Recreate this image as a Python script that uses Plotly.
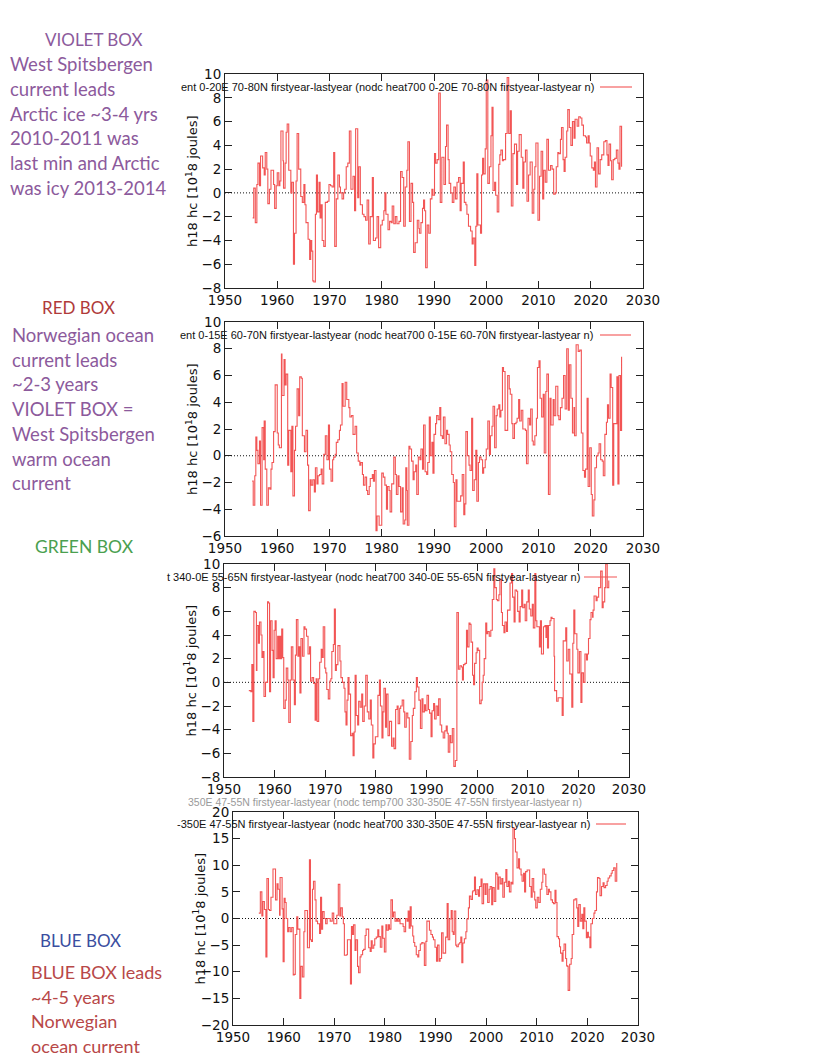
import plotly.graph_objects as go

# ---------------- data ----------------
# VIOLET BOX: 0-20E 70-80N
YEAR_VIOLET = [1955.3,1955.5,1955.8,1956.1,1956.3,1956.6,1956.8,1957.2,1957.5,1957.7,1958.0,1958.2,1958.5,1958.8,1959.3,1959.5,1959.8,1960.0,1960.3,1960.5,1960.7,1961.1,1961.2,1961.5,1961.7,1961.9,1962.2,1962.6,1962.8,1963.1,1963.3,1963.6,1963.8,1964.1,1964.5,1964.8,1965.1,1965.3,1965.5,1965.9,1966.2,1966.4,1966.6,1966.8,1967.0,1967.3,1967.5,1967.7,1968.0,1968.2,1968.4,1968.6,1968.9,1969.0,1969.2,1969.6,1969.9,1970.2,1970.5,1970.8,1971.0,1971.3,1971.6,1971.9,1972.1,1972.4,1972.7,1972.9,1973.2,1973.5,1973.8,1974.1,1974.5,1974.8,1975.0,1975.4,1975.6,1975.9,1976.3,1976.6,1976.9,1977.2,1977.5,1977.8,1978.2,1978.4,1978.8,1979.1,1979.4,1979.8,1980.1,1980.4,1980.6,1980.8,1981.2,1981.5,1981.8,1982.0,1982.3,1982.6,1982.9,1983.3,1983.6,1983.9,1984.2,1984.5,1984.8,1985.0,1985.3,1985.6,1985.9,1986.1,1986.4,1986.8,1987.1,1987.2,1987.5,1987.8,1988.0,1988.2,1988.4,1988.7,1989.0,1989.3,1989.6,1989.8,1990.1,1990.3,1990.6,1990.9,1991.2,1991.5,1991.9,1992.2,1992.4,1992.7,1992.9,1993.2,1993.5,1993.8,1994.1,1994.4,1994.7,1995.0,1995.2,1995.6,1995.8,1996.1,1996.3,1996.6,1997.0,1997.3,1997.5,1997.8,1998.0,1998.2,1998.4,1998.9,1999.1,1999.3,1999.5,1999.8,2000.0,2000.3,2000.6,2000.9,2001.1,2001.3,2001.6,2001.8,2002.1,2002.4,2002.6,2002.8,2003.1,2003.3,2003.7,2004.0,2004.3,2004.6,2004.8,2005.1,2005.4,2005.8,2006.0,2006.3,2006.7,2007.0,2007.2,2007.5,2007.8,2008.1,2008.4,2008.8,2009.1,2009.3,2009.5,2009.9,2010.2,2010.5,2010.8,2011.0,2011.3,2011.6,2011.9,2012.3,2012.6,2012.9,2013.2,2013.4,2013.7,2013.9,2014.2,2014.4,2014.7,2014.9,2015.1,2015.4,2015.6,2015.9,2016.2,2016.5,2016.8,2017.0,2017.4,2017.7,2018.0,2018.3,2018.6,2019.0,2019.2,2019.5,2019.7,2019.9,2020.2,2020.5,2020.7,2020.9,2021.2,2021.5,2021.8,2022.1,2022.5,2022.8,2023.1,2023.3,2023.5,2023.8,2024.0,2024.3,2024.6,2024.9,2025.2,2025.4,2025.6,2025.9]
HC_VIOLET = [-2.1,0.4,-2.5,0.7,2.5,0.6,3.1,2.1,1.5,3.4,2.0,-0.9,0.3,1.9,0.7,-1.3,0.6,1.7,0.6,1.0,5.2,2.7,0.4,2.5,5.1,5.8,1.9,0.0,0.9,-6.0,-3.4,1.0,5.0,2.0,-0.3,-0.8,0.7,-1.0,-2.5,-3.9,-5.6,-4.0,-4.9,-7.4,-7.5,-1.8,1.5,-1.6,0.9,-2.1,-1.0,-4.0,-4.5,-4.5,-0.8,-0.7,0.7,0.6,0.5,3.4,-4.5,-0.5,1.5,0.5,0.0,-0.5,0.0,0.3,2.2,2.5,5.2,0.3,1.4,-1.5,5.4,-0.4,2.2,-1.0,-1.8,-2.0,-2.3,-0.6,-4.3,-2.0,1.3,-4.0,-3.8,-2.0,-4.6,-2.7,-2.3,-1.5,0.0,-1.8,-3.1,-2.4,-2.5,-1.1,-2.6,-2.0,-2.6,-2.4,1.8,1.3,-2.8,0.5,1.9,4.3,-2.4,0.8,-0.8,-5.0,-4.2,-2.3,-3.0,-3.4,-2.5,-1.3,-0.6,-1.5,-6.3,-2.7,-3.4,-0.5,0.3,-0.2,3.3,2.5,2.8,8.4,-0.8,3.0,0.7,3.9,5.7,2.8,0.8,0.0,-0.8,0.5,-0.5,0.9,1.3,-1.5,0.8,2.6,-0.8,-1.0,-1.8,-2.8,-3.2,-4.3,-3.8,-6.1,-2.8,1.6,-2.7,-3.4,1.5,2.9,1.6,3.7,9.5,0.8,2.2,4.8,7.2,0.2,0.9,-0.2,-1.6,2.4,3.2,3.6,2.7,2.8,5.0,9.7,5.0,6.9,-1.1,3.3,4.1,0.7,3.5,4.9,3.0,0.4,2.6,3.6,-0.7,1.5,2.6,-1.7,0.3,2.2,4.2,-2.3,1.4,3.5,-0.5,1.9,0.9,4.5,1.9,2.3,2.0,-0.1,0.0,2.2,3.4,3.3,4.5,5.5,2.8,1.8,3.0,5.2,7.0,5.5,4.0,6.0,4.6,6.2,5.6,6.4,6.3,5.7,4.8,4.7,4.2,4.8,4.2,3.1,2.1,1.9,2.6,0.5,3.8,1.6,2.8,3.2,4.3,4.4,3.2,2.3,4.1,2.7,1.1,2.8,2.9,3.6,2.5,2.0,5.6,2.2]

# RED BOX: 0-15E 60-70N
YEAR_RED = [1955.2,1955.4,1955.7,1955.9,1956.1,1956.3,1956.6,1956.8,1957.1,1957.4,1957.5,1957.7,1958.0,1958.3,1958.6,1958.8,1959.0,1959.3,1959.6,1960.0,1960.2,1960.4,1960.8,1960.9,1961.3,1961.5,1961.7,1962.0,1962.2,1962.6,1962.8,1963.0,1963.3,1963.5,1963.8,1964.1,1964.3,1964.6,1964.8,1965.2,1965.5,1965.8,1966.0,1966.3,1966.5,1966.8,1967.1,1967.3,1967.6,1967.8,1968.1,1968.4,1968.6,1968.9,1969.2,1969.5,1969.8,1970.0,1970.3,1970.6,1970.8,1971.1,1971.3,1971.6,1971.9,1972.1,1972.4,1972.6,1973.0,1973.3,1973.7,1973.9,1974.2,1974.5,1974.9,1975.2,1975.5,1975.8,1976.0,1976.3,1976.5,1976.8,1977.1,1977.3,1977.6,1977.8,1978.2,1978.4,1978.6,1978.9,1979.1,1979.5,1979.8,1980.0,1980.3,1980.6,1980.9,1981.1,1981.4,1981.6,1981.9,1982.3,1982.6,1982.8,1983.1,1983.3,1983.6,1983.9,1984.1,1984.4,1984.6,1984.8,1984.9,1985.2,1985.4,1985.7,1986.0,1986.2,1986.5,1986.7,1987.0,1987.3,1987.5,1987.8,1988.0,1988.3,1988.6,1988.8,1989.1,1989.3,1989.6,1989.8,1990.0,1990.3,1990.5,1990.8,1991.1,1991.3,1991.6,1991.8,1992.1,1992.4,1992.6,1992.9,1993.1,1993.4,1993.7,1993.9,1994.2,1994.4,1994.8,1995.1,1995.4,1995.7,1995.9,1996.1,1996.4,1996.7,1996.9,1997.2,1997.4,1997.7,1998.0,1998.2,1998.5,1998.7,1999.0,1999.3,1999.5,1999.8,2000.0,2000.3,2000.6,2000.8,2001.1,2001.3,2001.6,2001.9,2002.1,2002.4,2002.6,2002.8,2003.1,2003.3,2003.6,2003.8,2004.1,2004.4,2004.6,2004.9,2005.1,2005.4,2005.7,2005.9,2006.2,2006.4,2006.7,2007.0,2007.2,2007.5,2007.7,2008.0,2008.3,2008.5,2008.8,2009.0,2009.3,2009.6,2009.8,2010.1,2010.3,2010.6,2010.9,2011.1,2011.4,2011.6,2011.9,2012.2,2012.4,2012.8,2013.0,2013.3,2013.7,2013.9,2014.2,2014.5,2014.8,2015.1,2015.4,2015.7,2015.9,2016.2,2016.5,2016.8,2016.9,2017.2,2017.6,2017.9,2018.2,2018.5,2018.8,2019.0,2019.3,2019.5,2019.8,2020.1,2020.3,2020.6,2020.8,2021.1,2021.4,2021.6,2021.9,2022.2,2022.4,2022.7,2023.0,2023.2,2023.4,2023.7,2023.9,2024.2,2024.4,2024.7,2025.0,2025.2,2025.4,2025.7,2025.9]
HC_RED = [-1.9,-3.7,-1.5,1.4,0.4,-0.6,1.1,-3.7,2.1,-0.3,2.6,-1.0,-3.7,-2.4,-2.5,-1.0,-0.5,1.8,5.3,1.7,0.8,0.6,7.6,4.5,7.2,5.3,6.1,-0.7,1.9,-1.2,2.2,-3.0,0.4,2.2,5.0,3.0,5.9,5.8,1.5,0.3,1.9,-0.7,-4.1,-1.8,-2.2,-1.8,-2.7,-0.9,-2.1,-1.5,-1.4,-1.0,-2.1,0.1,1.5,-0.3,2.3,-1.0,-1.9,-0.3,-0.1,0.1,1.0,1.2,1.9,2.3,5.4,3.7,5.5,4.2,3.6,2.9,3.0,1.6,2.2,0.2,-0.4,-0.7,-0.5,-1.4,-2.2,-1.6,-2.6,-2.9,-2.3,-1.7,-1.4,-1.9,-1.1,-5.6,-4.5,-5.2,-5.2,-1.3,-1.6,-2.2,-4.0,-2.3,-2.6,-4.2,-2.1,-0.1,-1.4,-2.9,-1.5,-2.3,-4.2,-2.4,-5.1,-4.8,-0.9,-2.6,-5.2,0.7,0.5,-0.4,-1.8,-1.2,-0.7,-2.9,-0.1,-0.3,0.5,-1.0,2.3,-1.2,-1.4,-0.5,2.9,0.0,1.0,-1.3,1.6,2.4,3.0,2.7,3.6,1.5,1.3,2.9,0.9,1.9,1.6,0.8,0.3,-1.4,-2.0,-5.3,-1.8,-3.4,-3.4,-3.0,-1.4,-4.4,-3.6,1.8,0.0,-0.7,-1.1,2.8,-2.6,-1.8,0.4,-3.4,-0.5,-0.1,-0.3,-1.3,-0.9,-0.3,0.5,2.6,0.1,1.5,2.2,3.7,0.6,3.0,3.5,3.8,2.9,3.4,6.6,6.3,1.9,1.9,6.0,5.0,4.6,2.4,1.3,2.4,2.5,2.8,4.2,2.6,3.4,2.0,2.0,1.9,-0.6,2.8,2.3,3.5,1.1,0.8,1.5,2.8,6.6,7.1,4.3,2.9,4.6,0.2,4.8,6.1,-2.9,4.3,2.3,4.2,3.0,5.2,3.0,2.7,3.6,4.3,6.0,3.5,8.0,3.4,6.8,4.3,1.7,3.6,1.5,8.3,7.8,7.9,1.7,-1.1,-1.6,-1.0,4.3,-2.3,0.6,-2.9,-4.5,-3.3,-0.9,0.0,0.2,0.9,-0.3,-0.4,-1.5,1.6,2.5,3.8,2.8,6.1,5.1,-2.2,2.4,2.4,5.9,-2.1,6.0,1.9,7.4]

# GREEN BOX: 340-0E 55-65N
YEAR_GREEN = [1954.9,1955.3,1955.5,1955.7,1955.9,1956.2,1956.4,1956.5,1956.8,1957.0,1957.3,1957.5,1957.7,1957.9,1958.2,1958.6,1958.8,1959.0,1959.2,1959.5,1959.7,1959.9,1960.1,1960.3,1960.6,1960.8,1961.0,1961.2,1961.4,1961.6,1961.8,1962.1,1962.3,1962.6,1962.8,1963.1,1963.3,1963.6,1963.9,1964.1,1964.3,1964.6,1964.8,1965.0,1965.2,1965.5,1965.8,1966.0,1966.3,1966.6,1966.9,1967.1,1967.4,1967.7,1968.0,1968.2,1968.4,1968.7,1968.9,1969.2,1969.4,1969.6,1969.9,1970.1,1970.3,1970.6,1970.9,1971.1,1971.3,1971.6,1971.8,1972.0,1972.2,1972.5,1972.9,1973.1,1973.4,1973.7,1973.9,1974.1,1974.3,1974.5,1974.7,1975.0,1975.3,1975.5,1975.7,1975.9,1976.1,1976.4,1976.6,1976.9,1977.2,1977.4,1977.7,1978.0,1978.3,1978.6,1978.9,1979.1,1979.4,1979.6,1979.9,1980.1,1980.4,1980.7,1980.9,1981.2,1981.4,1981.6,1981.9,1982.1,1982.4,1982.7,1983.1,1983.4,1983.6,1983.9,1984.2,1984.4,1984.7,1984.9,1985.2,1985.5,1985.7,1986.0,1986.3,1986.6,1986.9,1987.2,1987.4,1987.7,1988.0,1988.2,1988.5,1988.8,1989.1,1989.3,1989.6,1989.8,1990.1,1990.4,1990.6,1990.9,1991.1,1991.4,1991.6,1991.9,1992.2,1992.4,1992.7,1993.0,1993.3,1993.6,1993.9,1994.1,1994.3,1994.6,1994.8,1995.1,1995.4,1995.7,1996.0,1996.3,1996.6,1996.9,1997.1,1997.3,1997.6,1997.9,1998.1,1998.4,1998.6,1998.8,1999.1,1999.3,1999.5,1999.8,2000.0,2000.2,2000.5,2000.8,2001.0,2001.2,2001.4,2001.7,2001.9,2002.1,2002.4,2002.7,2003.0,2003.3,2003.5,2003.8,2004.0,2004.3,2004.5,2004.8,2005.0,2005.3,2005.5,2005.8,2006.0,2006.3,2006.5,2006.8,2007.0,2007.3,2007.5,2007.8,2008.0,2008.3,2008.5,2008.8,2009.0,2009.3,2009.5,2009.8,2010.1,2010.3,2010.6,2010.9,2011.1,2011.4,2011.6,2011.8,2012.1,2012.3,2012.5,2012.7,2013.1,2013.4,2013.6,2013.7,2013.9,2014.1,2014.4,2014.6,2014.8,2015.2,2015.3,2015.7,2016.0,2016.4,2016.8,2017.0,2017.5,2017.7,2018.0,2018.3,2018.7,2018.9,2019.1,2019.3,2019.7,2019.9,2020.2,2020.5,2020.7,2021.0,2021.3,2021.6,2021.8,2022.0,2022.3,2022.5,2022.8,2022.9,2023.1,2023.5,2023.7,2024.0,2024.4,2024.7,2024.9,2025.2,2025.4,2025.7,2026.0]
HC_GREEN = [-0.7,-0.8,1.5,-3.3,6.0,5.9,1.0,4.8,3.3,5.1,4.0,2.1,2.6,-1.2,0.0,6.8,6.7,-0.8,5.2,2.7,0.4,4.4,5.2,2.0,3.9,2.0,3.9,2.0,4.5,2.1,-2.2,-1.5,1.2,0.2,-3.4,0.2,3.0,0.2,-1.9,2.3,5.3,2.2,3.0,-0.9,3.7,2.2,4.7,4.5,3.9,2.4,3.0,0.1,0.4,-0.1,-3.2,0.3,-3.3,0.3,1.7,2.8,2.1,4.7,1.2,0.8,-0.6,-1.4,0.1,0.3,2.6,3.2,6.2,1.0,1.5,3.1,1.8,0.4,0.0,-0.5,-2.5,-3.6,-1.5,0.4,-1.0,-4.5,-4.3,-6.2,-4.2,0.6,-2.8,-3.6,-1.6,-2.1,-1.0,-3.3,-2.0,0.6,-2.5,-3.1,-1.5,-3.6,-6.4,-5.2,-4.6,-4.6,-1.1,0.2,-2.0,-4.7,-2.5,-0.5,-3.8,-1.0,-4.5,-3.3,-5.4,-4.7,-5.6,-2.3,-2.0,-3.5,-2.2,-2.0,-1.5,-2.5,-3.8,-2.6,-3.0,-6.5,-5.0,-2.8,-2.2,-0.8,0.4,-0.4,-1.5,-3.9,-1.4,-2.5,-1.9,-2.4,-1.1,-2.3,-2.6,-4.6,-2.4,-1.8,-3.1,-2.0,-2.8,-1.4,-3.6,-4.2,-4.7,-4.1,-3.7,-4.3,-5.9,-4.5,-5.1,-3.9,-7.1,-6.6,5.9,1.1,1.4,1.3,0.2,1.5,1.6,4.4,3.0,5.0,4.9,3.4,0.6,-0.2,1.6,2.5,2.9,2.7,-1.8,-1.5,0.0,0.6,2.0,5.0,4.1,4.3,3.9,4.4,7.0,9.6,8.0,7.0,6.9,7.4,8.7,5.9,4.8,4.2,5.1,4.3,6.1,6.1,8.4,9.2,7.2,5.1,7.8,7.7,6.0,5.1,6.4,7.8,6.3,6.6,5.2,6.8,7.8,6.2,5.6,6.6,4.6,9.2,5.2,4.7,4.7,3.0,5.2,2.4,4.7,4.8,3.8,4.8,2.9,4.8,5.2,5.5,5.4,2.2,-0.7,-1.6,-1.3,-1.3,-2.8,3.5,4.6,1.8,2.8,0.7,-2.1,3.3,6.1,4.1,2.8,0.8,2.6,-1.7,0.8,0.0,2.4,1.9,2.4,3.7,5.3,5.9,5.5,6.1,7.3,6.9,7.2,8.0,9.4,6.3,6.8,8.0,10.0,8.0,8.6]

# BLUE BOX: 330-350E 47-55N
YEAR_BLUE = [1955.1,1955.4,1955.7,1955.9,1956.2,1956.5,1956.7,1957.0,1957.2,1957.5,1957.9,1958.4,1958.7,1958.9,1959.2,1959.3,1959.7,1959.9,1960.1,1960.3,1960.5,1960.8,1961.0,1961.3,1961.6,1961.9,1962.1,1962.3,1962.6,1962.8,1963.2,1963.4,1963.7,1964.0,1964.2,1964.5,1964.7,1964.9,1965.1,1965.3,1965.5,1965.7,1965.9,1966.2,1966.4,1966.7,1967.1,1967.3,1967.5,1967.7,1968.0,1968.3,1968.6,1969.0,1969.2,1969.6,1969.9,1970.2,1970.5,1970.8,1971.1,1971.3,1971.6,1971.8,1972.0,1972.4,1972.6,1972.9,1973.2,1973.4,1973.6,1973.8,1974.1,1974.3,1974.6,1974.8,1975.1,1975.3,1975.6,1975.8,1976.1,1976.3,1976.6,1976.8,1977.1,1977.3,1977.5,1977.8,1978.0,1978.3,1978.6,1978.8,1979.1,1979.4,1979.6,1979.9,1980.2,1980.4,1980.7,1980.9,1981.2,1981.5,1981.7,1982.0,1982.3,1982.5,1982.8,1983.0,1983.3,1983.6,1983.8,1984.1,1984.4,1984.6,1984.8,1985.0,1985.2,1985.5,1985.7,1985.9,1986.2,1986.5,1986.7,1987.0,1987.3,1987.5,1987.8,1988.1,1988.3,1988.6,1988.8,1989.1,1989.4,1989.6,1989.9,1990.2,1990.4,1990.7,1990.9,1991.2,1991.5,1991.7,1992.0,1992.3,1992.5,1992.8,1993.1,1993.3,1993.5,1993.7,1994.0,1994.2,1994.5,1994.8,1995.0,1995.2,1995.4,1995.7,1996.0,1996.2,1996.5,1996.7,1997.0,1997.3,1997.4,1997.7,1997.9,1998.2,1998.5,1998.7,1999.0,1999.2,1999.5,1999.8,2000.0,2000.3,2000.6,2000.8,2001.1,2001.3,2001.6,2001.9,2002.1,2002.3,2002.5,2002.8,2003.1,2003.3,2003.6,2003.9,2004.1,2004.4,2004.6,2004.9,2005.1,2005.3,2005.6,2005.8,2006.1,2006.4,2006.6,2006.9,2007.1,2007.4,2007.6,2007.8,2008.1,2008.4,2008.6,2008.9,2009.1,2009.4,2009.6,2009.8,2010.1,2010.4,2010.7,2011.0,2011.2,2011.5,2011.8,2012.0,2012.3,2012.5,2012.8,2013.1,2013.3,2013.6,2013.8,2014.0,2014.3,2014.5,2014.7,2015.0,2015.2,2015.4,2015.7,2015.9,2016.1,2016.2,2016.5,2016.8,2017.0,2017.3,2017.6,2017.9,2018.1,2018.3,2018.6,2018.9,2019.1,2019.3,2019.5,2019.8,2020.0,2020.2,2020.5,2020.7,2021.0,2021.3,2021.5,2021.8,2022.0,2022.3,2022.5,2022.8,2023.1,2023.3,2023.6,2023.9,2024.1,2024.4,2024.7,2024.9,2025.2,2025.5,2025.8]
HC_BLUE = [1.0,5.0,0.5,3.2,1.7,-7.2,7.5,1.7,1.5,4.0,9.3,3.5,6.5,5.5,0.6,7.7,1.8,-8.1,3.8,3.0,0.0,-2.5,-1.7,-2.5,-1.7,-10.6,-10.5,-3.0,0.3,-2.0,-15.0,-9.0,-11.0,-2.5,1.5,1.5,-5.5,-5.5,11.0,-4.0,-4.3,5.5,7.0,3.5,-0.5,-1.0,-2.8,4.0,-2.0,1.3,0.0,-1.0,0.0,0.0,-0.5,1.0,-1.0,-1.0,0.6,6.4,0.5,2.0,0.3,-1.0,-6.9,-6.8,-4.0,-4.0,-12.3,-1.5,-3.0,-1.2,-6.0,-4.0,-9.0,-10.2,-7.2,-6.8,-6.0,-5.8,-3.2,-2.0,-2.0,-5.5,-6.2,-4.2,-5.6,-5.0,-3.8,-3.5,-2.1,-3.4,-5.4,-1.4,-3.7,-6.3,-1.2,-2.2,-1.2,-2.0,3.5,0.3,1.2,-0.5,0.0,-0.5,-0.1,-1.0,-1.0,-1.5,-2.5,0.0,-0.5,1.4,-1.8,2.2,-1.4,-3.3,-4.5,-5.2,-6.8,-7.2,-6.0,-4.8,-4.5,-4.6,-8.8,-4.3,-0.5,-0.5,-2.2,-3.0,-3.5,-4.0,-5.4,-8.0,-5.0,-8.0,-7.5,-2.7,-6.5,-6.5,-3.5,2.8,-4.0,-0.1,1.5,-2.5,-3.0,1.4,-5.0,-5.3,-4.8,-4.5,-3.5,-8.3,-4.6,-3.8,-2.5,-0.1,2.0,4.2,3.6,5.0,5.2,7.8,4.5,5.4,4.2,6.0,7.4,2.8,6.5,4.5,6.5,3.0,5.5,6.0,2.6,5.8,3.2,8.6,8.3,5.5,7.8,6.5,7.5,4.0,6.8,9.2,6.0,7.0,5.0,6.8,6.5,17.0,15.0,12.5,9.5,11.2,9.3,8.2,7.0,8.5,5.0,8.8,9.1,9.1,6.0,4.0,7.5,5.0,3.5,2.0,4.0,3.0,5.5,6.8,9.3,8.3,6.0,4.5,5.5,5.0,3.5,3.0,2.8,5.3,3.0,-3.4,-3.8,-5.3,-6.5,-8.0,-6.0,-4.8,-7.5,-8.9,-9.0,-13.5,-8.6,-7.5,-3.0,3.5,3.7,2.0,-1.5,2.6,-0.5,0.8,-1.9,2.0,-0.5,-3.6,-2.6,-3.5,-5.5,-1.0,0.0,1.0,1.5,5.0,7.7,7.5,4.3,6.0,6.7,5.8,6.2,7.0,7.6,8.0,8.5,9.0,9.5,7.0,10.4]

X_TICKS = [1950, 1960, 1970, 1980, 1990, 2000, 2010, 2020, 2030]
Y_RANGES = [(-8, 10, 2), (-6, 10, 2), (-8, 10, 2), (-20, 20, 5)]
LEGEND_TEXTS = [
    "ent 0-20E 70-80N firstyear-lastyear (nodc heat700 0-20E 70-80N firstyear-lastyear n)",
    "ent 0-15E 60-70N firstyear-lastyear (nodc heat700 0-15E 60-70N firstyear-lastyear n)",
    "t 340-0E 55-65N firstyear-lastyear (nodc heat700 340-0E 55-65N firstyear-lastyear n)",
    "-350E 47-55N firstyear-lastyear (nodc heat700 330-350E 47-55N firstyear-lastyear n)",
]
Y_TITLE = "h18 hc [10<sup>1</sup>8 joules]"

SERIES = [(YEAR_VIOLET, HC_VIOLET), (YEAR_RED, HC_RED), (YEAR_GREEN, HC_GREEN), (YEAR_BLUE, HC_BLUE)]
for yrs, vals in SERIES:
    assert len(yrs) == len(vals), (len(yrs), len(vals))

# ---------------- layout helpers ----------------
W, H = 823, 1060
def px(x):
    return x / W
def py(y):
    return 1 - y / H

# plot frames in pixels: left, right, top, bottom
FRAMES = [(225, 643, 74, 288), (225, 643, 322, 536), (224, 629, 564, 777), (233, 638, 812, 1025)]
# key: text right edge, sample line x0, x1, y ; y-title x
LEG = [(596, 600, 632, 87, 192), (595, 600, 631, 335, 192), (582, 584, 617, 577, 190), (592, 596, 626, 824, 199)]

LINE_COLOR = "#f25555"
AX_COLOR = "#222222"

fig = go.Figure()
layout = dict(template="none", width=W, height=H, autosize=False, margin=dict(l=0, r=0, t=0, b=0, pad=0),
              paper_bgcolor="white", plot_bgcolor="white", showlegend=False)
annotations = []
shapes = []

for i, ((yrs, vals), (l, r, t, b), (ymin, ymax, ystep), leg) in enumerate(zip(SERIES, FRAMES, Y_RANGES, LEG)):
    n = "" if i == 0 else str(i + 1)
    xa, ya = "x" + n, "y" + n
    fig.add_trace(go.Scatter(x=yrs, y=vals, mode="lines", xaxis=xa, yaxis=ya,
                             line=dict(color=LINE_COLOR, width=1.1, shape="hv"), hoverinfo="skip"))
    common = dict(ticks="inside", ticklen=7, tickwidth=1, tickcolor=AX_COLOR, showline=True, linecolor=AX_COLOR,
                  linewidth=1, mirror="allticks", showgrid=False, zeroline=False, automargin=False,
                  tickfont=dict(family="DejaVu Sans", size=13.5, color="#111"))
    layout["xaxis" + n] = dict(domain=[px(l), px(r)], range=[1950, 2030], tickmode="array",
                               tickvals=X_TICKS, anchor=ya, **common)
    layout["yaxis" + n] = dict(domain=[py(b), py(t)], range=[ymin, ymax], tickmode="linear",
                               tick0=ymin, dtick=ystep, anchor=xa, **common)
    # dotted zero line
    shapes.append(dict(type="line", xref=xa + " domain", x0=0, x1=1, yref=ya, y0=0, y1=0,
                       line=dict(color="#111", width=1, dash="1px,2px"), layer="below"))
    # key
    tx, lx0, lx1, ly, ytx = leg
    annotations.append(dict(text=LEGEND_TEXTS[i], xref="paper", yref="paper", x=px(tx), y=py(ly),
                            xanchor="right", yanchor="middle", showarrow=False,
                            font=dict(family="Liberation Sans", size=11, color="#111")))
    shapes.append(dict(type="line", xref="paper", yref="paper", x0=px(lx0), x1=px(lx1), y0=py(ly), y1=py(ly),
                       line=dict(color=LINE_COLOR, width=1.1)))
    annotations.append(dict(text=Y_TITLE, xref="paper", yref="paper", x=px(ytx), y=py((t + b) / 2),
                            xanchor="center", yanchor="middle", textangle=-90, showarrow=False,
                            font=dict(family="DejaVu Sans", size=13, color="#111")))

# faint clipped title above the bottom panel
annotations.append(dict(text="350E 47-55N firstyear-lastyear (nodc temp700 330-350E 47-55N firstyear-lastyear n)",
                        xref="paper", yref="paper", x=px(186), y=py(802), xanchor="left", yanchor="middle",
                        showarrow=False, font=dict(family="Liberation Sans", size=10.5, color="#9a9a9a")))

# ---------------- side notes ----------------
PURPLE = "#8c5a9c"
DARKRED = "#b03a3a"
GREEN = "#4aa04f"
BLUE = "#3b4ea0"
RED = "#b84848"
NOTE_FONT = "Lato"

def note(text, x, y, color, anchor="left", size=18.5):
    annotations.append(dict(text=text, xref="paper", yref="paper", x=px(x), y=py(y), xanchor=anchor,
                            yanchor="middle", showarrow=False,
                            font=dict(family=NOTE_FONT, size=size, color=color)))

note("VIOLET BOX", 93, 40, PURPLE, "center", 17)
for k, s in enumerate(["West Spitsbergen", "current leads", "Arctic ice ~3-4 yrs", "2010-2011 was",
                       "last min and Arctic", "was icy 2013-2014"]):
    note(s, 8, 64 + k * 24.8, PURPLE)

note("RED BOX", 78, 308, DARKRED, "center", 17)
for k, s in enumerate(["Norwegian ocean", "current leads", "~2-3 years", "VIOLET BOX =",
                       "West Spitsbergen", "warm ocean", "current"]):
    note(s, 10, 335 + k * 24.7, PURPLE)

note("GREEN BOX", 84, 546, GREEN, "center", 17.5)

note("BLUE BOX", 80, 940, BLUE, "center", 17)
for k, s in enumerate(["BLUE BOX leads", "~4-5 years", "Norwegian", "ocean current"]):
    note(s, 29, 972 + k * 24.7, RED, size=18)

layout["annotations"] = annotations
layout["shapes"] = shapes
fig.update_layout(**layout)
# remove the default page margin so the figure sits at the window's top-left corner; hide the mode bar
fig.write_html("out.html", config={"displayModeBar": False},
               post_script="document.body.style.margin='0px';")
